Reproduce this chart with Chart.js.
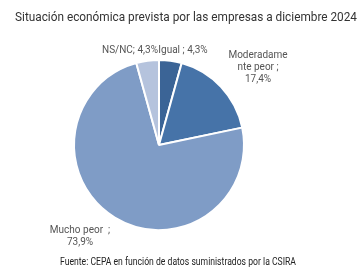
<!DOCTYPE html>
<html>
<head>
<meta charset="utf-8">
<script src="https://cdn.jsdelivr.net/npm/chart.js@4"></script>
<style>
  html, body { margin: 0; padding: 0; background: #fff; }
  #wrap { width: 358px; height: 267px; }
</style>
</head>
<body>
<div id="wrap"><canvas id="chart"></canvas></div>
<script>
// datos del gráfico
const categorias = ['Igual', 'Moderadamente peor', 'Mucho peor', 'NS/NC'];
const valores = [4.3, 17.4, 73.9, 4.3];
const colores = ['#3b6496', '#4673a8', '#7f9cc6', '#b5c3dd'];
// etiquetas tal como aparecen (con sus cortes de línea)
const etiquetas = [
    ['Igual ; 4,3%'],
    ['Moderadame', 'nte peor ;', '17,4%'],
    ['Mucho peor  ;', '73,9%'],
    ['NS/NC; 4,3%']
];
// dónde va cada etiqueta respecto al centro del pastel
const posEtiquetas = [[24, -95], [99, -90], [-79, 85], [-29, -95]];

const titulo = 'Situación económica prevista por las empresas a diciembre 2024';
const fuente = 'Fuente: CEPA en función de datos suministrados por la CSIRA';

// dibuja texto centrado y lo ajusta a un ancho dado
function textoAjustado(c, t, x, y, ancho) {
    const w = c.measureText(t).width;
    c.save();
    c.translate(x, y);
    c.scale(ancho / w, 1);
    c.fillText(t, 0, 0);
    c.restore();
}

const textos = {
    id: 'textos',
    afterDraw(chart) {
        const c = chart.ctx;
        c.save();
        c.textAlign = 'center';
        c.textBaseline = 'middle';
        c.fillStyle = '#333';
        c.font = '13px Roboto, sans-serif';
        textoAjustado(c, titulo, 186, 18, 342);

        c.font = '10px Roboto, sans-serif';
        c.fillStyle = '#222';
        textoAjustado(c, fuente, 178, 262, 236);

        const arc = chart.getDatasetMeta(0).data[0];
        const cx = arc.x, cy = arc.y;
        c.fillStyle = '#555';
        c.font = '10px Roboto, sans-serif';
        etiquetas.forEach((lineas, i) => {
            lineas.forEach((t, j) => {
                c.fillText(t, cx + posEtiquetas[i][0], cy + posEtiquetas[i][1] + j * 12);
            });
        });
        c.restore();
    }
};

new Chart(document.getElementById('chart'), {
    type: 'pie',
    data: {
        labels: categorias,
        datasets: [{
            data: valores,
            backgroundColor: colores,
            borderColor: '#fff',
            borderWidth: 2
        }]
    },
    options: {
        responsive: true,
        maintainAspectRatio: false,
        animation: false,
        layout: { padding: { left: 73, right: 113, top: 59, bottom: 36 } },
        plugins: {
            legend: { display: false },
            tooltip: { enabled: false }
        }
    },
    plugins: [textos]
});
</script>
</body>
</html>
